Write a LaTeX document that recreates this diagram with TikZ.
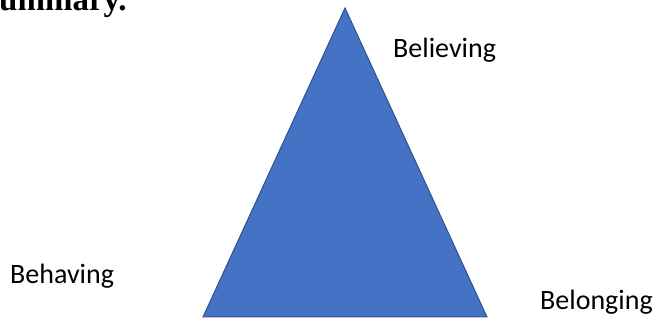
\documentclass[tikz,border=0pt]{standalone}
\usepackage{fontspec}
\setmainfont{Liberation Serif}
\newfontfamily\labelfont{Carlito}
\definecolor{triFill}{HTML}{4472C4}
\definecolor{triEdge}{HTML}{2F528F}
\tikzset{
  lbl/.style={font=\labelfont\fontsize{28}{30}\selectfont, anchor=base west, inner sep=0pt},
  ttl/.style={font=\bfseries\fontsize{33}{35}\selectfont, anchor=base west, inner sep=0pt},
  tri/.style={fill=triFill, draw=triEdge, line width=1pt, line join=miter}
}
\begin{document}
\begin{tikzpicture}[x=1pt,y=-1pt]
\useasboundingbox (0,0) rectangle (662,320);
\coordinate (apex) at (345,8);
\coordinate (bl) at (203,317);
\coordinate (br) at (487,317);
\draw[tri] (apex) -- (bl) -- (br) -- cycle;
\node[ttl] (title) at (-1,11) {ummary.};
\node[lbl] (believing) at (393,58) {Believing};
\node[lbl] (behaving) at (10,284) {Behaving};
\node[lbl] (belonging) at (540,310) {Belonging};
\end{tikzpicture}
\end{document}
